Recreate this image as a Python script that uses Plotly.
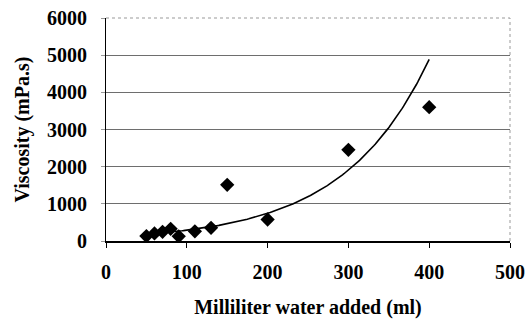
import numpy as np
import plotly.graph_objects as go

water_ml = [50, 60, 70, 80, 90, 110, 130, 150, 200, 300, 400]
viscosity = [133, 205, 248, 328, 125, 259, 355, 1512, 579, 2453, 3600]

x_ticks = [0, 100, 200, 300, 400, 500]
y_ticks = [0, 1000, 2000, 3000, 4000, 5000, 6000]

# Exponential trend line (least-squares fit of ln(y) on x), as in the spreadsheet
b, ln_a = np.polyfit(np.array(water_ml, float), np.log(np.array(viscosity, float)), 1)
xf = np.linspace(min(water_ml), max(water_ml), 200)
yf = np.exp(ln_a) * np.exp(b * xf)

font_family = "Liberation Serif, Times New Roman, serif"

fig = go.Figure()
fig.add_trace(go.Scatter(x=xf, y=yf, mode="lines",
                         line=dict(color="black", width=1.6), hoverinfo="skip",
                         showlegend=False))
fig.add_trace(go.Scatter(x=water_ml, y=viscosity, mode="markers",
                         marker=dict(symbol="diamond", size=11, color="black"),
                         showlegend=False))

fig.update_layout(
    width=530, height=325,
    margin=dict(l=106, r=20, t=18, b=84, autoexpand=False),
    paper_bgcolor="white", plot_bgcolor="white",
    font=dict(family=font_family, size=20, color="black"),
    xaxis=dict(range=[0, 500], tickvals=x_ticks, showgrid=False, zeroline=False,
               showline=True, linecolor="black", linewidth=1.5, automargin=False,
               ticks="outside", ticklen=5, tickcolor="black", ticklabelstandoff=7,
               tickfont=dict(family=font_family, size=20, weight="bold"),
               title=dict(text="<b>Milliliter water added (ml)</b>", standoff=18,
                          font=dict(family=font_family, size=20))),
    yaxis=dict(range=[0, 6000], tickvals=y_ticks, showgrid=True, gridcolor="#6e6e6e",
               gridwidth=1, zeroline=False, showline=True, linecolor="black", linewidth=1,
               automargin=False,
               ticks="outside", ticklen=4, tickcolor="#999", ticklabelstandoff=10,
               tickfont=dict(family=font_family, size=20, weight="bold"),
               title=dict(text="<b>Viscosity (mPa.s)</b>", standoff=12,
                          font=dict(family=font_family, size=20))),
)

# dotted plot-area border (top and right)
fig.add_shape(type="line", xref="x domain", yref="y domain", x0=0, x1=1, y0=1, y1=1,
              line=dict(color="#999", width=1, dash="dot"))
fig.add_shape(type="line", xref="x domain", yref="y domain", x0=1, x1=1, y0=0, y1=1,
              line=dict(color="#999", width=1, dash="dot"))

fig.write_html("out.html")
